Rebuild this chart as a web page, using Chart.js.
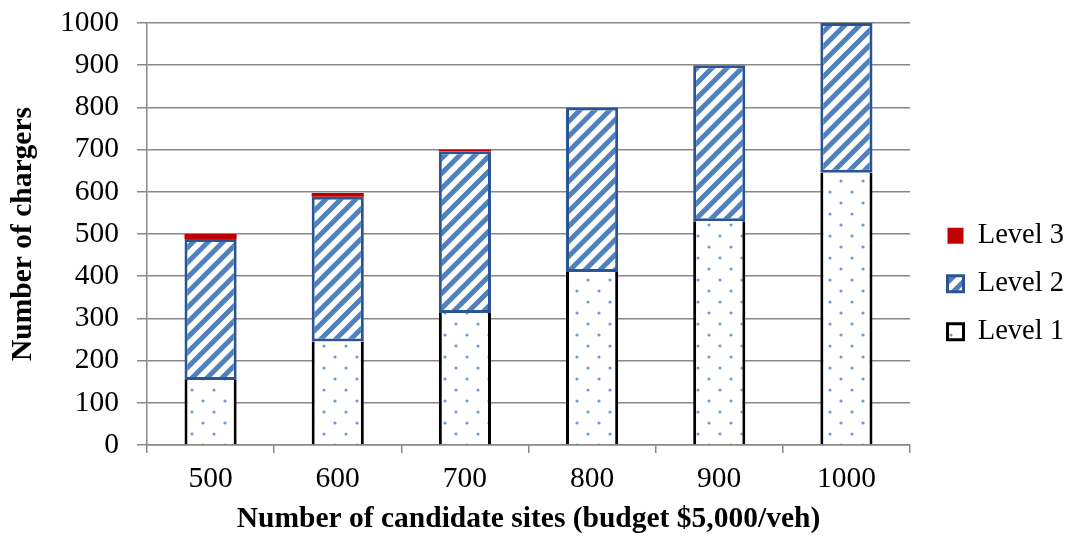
<!DOCTYPE html>
<html>
<head>
<meta charset="utf-8">
<script src="https://cdn.jsdelivr.net/npm/chart.js@4/dist/chart.umd.min.js"></script>
<style>
    body { margin: 0; background: #fff; }
</style>
</head>
<body>
<canvas id="chart" width="1066" height="537"></canvas>
<script>
const sites = ['500', '600', '700', '800', '900', '1000'];
const level1 = [154, 245, 313, 410, 530, 645];
const level2 = [334, 343, 383, 390, 370, 355];
const level3 = [12, 9, 4, 0, 0, 0];

const serif = '"Liberation Serif", "Times New Roman", serif';

function makePattern(size, draw) {
    const c = document.createElement('canvas');
    c.width = size;
    c.height = size;
    const g = c.getContext('2d');
    g.fillStyle = '#fff';
    g.fillRect(0, 0, size, size);
    draw(g);
    return g.createPattern(c, 'repeat');
}

// Diagonal stripes for level 2, dotted grid for level 1.
const stripes = makePattern(15, g => {
    g.strokeStyle = '#4f81bd';
    g.lineWidth = 5;
    g.beginPath();
    g.moveTo(-3, 3); g.lineTo(3, -3);
    g.moveTo(0, 15); g.lineTo(15, 0);
    g.moveTo(12, 18); g.lineTo(18, 12);
    g.stroke();
});
const dots = makePattern(22, g => {
    g.fillStyle = '#6f9bd3';
    [[5, 5], [16, 16]].forEach(([x, y]) => {
        g.beginPath();
        g.arc(x, y, 1.6, 0, Math.PI * 2);
        g.fill();
    });
});

// Moves the legend to where it sits in the original figure.
const legendPlacer = {
    id: 'legendPlacer',
    afterLayout(chart) {
        const lg = chart.legend;
        lg.left = 928;
        lg.right = 1066;
        lg.top = 202;
        lg.bottom = 537;
    },
};

function noScalePadding(scale) {
    scale.paddingTop = 0;
    scale.paddingBottom = 0;
    scale.paddingLeft = 0;
    scale.paddingRight = 0;
}

new Chart(document.getElementById('chart'), {
    type: 'bar',
    data: {
        labels: sites,
        datasets: [
            {
                label: 'Level 1',
                data: level1,
                backgroundColor: dots,
                borderColor: '#000',
                borderWidth: { left: 3, right: 3, top: 0, bottom: 0 },
                borderSkipped: false,
            },
            {
                label: 'Level 2',
                data: level2,
                backgroundColor: stripes,
                borderColor: '#2b5592',
                borderWidth: 3,
                borderSkipped: false,
            },
            {
                label: 'Level 3',
                data: level3,
                backgroundColor: '#c00000',
                borderWidth: 0,
            },
        ],
    },
    options: {
        responsive: false,
        animation: false,
        events: [],
        datasets: {
            bar: {
                barPercentage: 0.41,
                categoryPercentage: 1,
            },
        },
        layout: {
            padding: { top: 23, right: 10, left: 0, bottom: 0 },
        },
        scales: {
            x: {
                stacked: true,
                afterFit: scale => {
                    scale.height = 92;
                    noScalePadding(scale);
                },
                grid: {
                    drawOnChartArea: false,
                    color: '#888',
                    lineWidth: 1.5,
                    tickLength: 8,
                },
                border: { color: '#888', width: 1.5 },
                ticks: {
                    color: '#000',
                    padding: 9,
                    font: { family: serif, size: 29.5 },
                },
                title: {
                    display: true,
                    text: 'Number of candidate sites (budget $5,000/veh)',
                    color: '#000',
                    padding: { top: 0, bottom: 0 },
                    font: { family: serif, size: 29.5, weight: 'bold' },
                },
            },
            y: {
                stacked: true,
                min: 0,
                max: 1000,
                afterFit: scale => {
                    scale.width = 147;
                    noScalePadding(scale);
                },
                grid: {
                    color: '#888',
                    lineWidth: 1.5,
                    tickLength: 10,
                },
                border: { color: '#888', width: 1.5 },
                ticks: {
                    stepSize: 100,
                    color: '#000',
                    padding: 18,
                    font: { family: serif, size: 29.5 },
                    callback: value => String(value),
                },
                title: {
                    display: true,
                    text: 'Number of chargers',
                    color: '#000',
                    padding: { top: 6, bottom: 0 },
                    font: { family: serif, size: 29.5, weight: 'bold' },
                },
            },
        },
        plugins: {
            legend: {
                position: 'right',
                align: 'start',
                reverse: true,
                labels: {
                    color: '#000',
                    boxWidth: 16,
                    boxHeight: 16,
                    padding: 19.5,
                    font: { family: serif, size: 28.5 },
                    generateLabels: chart => Chart.defaults.plugins.legend.labels.generateLabels(chart)
                        .map(item => Object.assign(item, { lineWidth: item.datasetIndex === 2 ? 0 : 3 })),
                },
            },
            tooltip: { enabled: false },
        },
    },
    plugins: [legendPlacer],
});
</script>
</body>
</html>
